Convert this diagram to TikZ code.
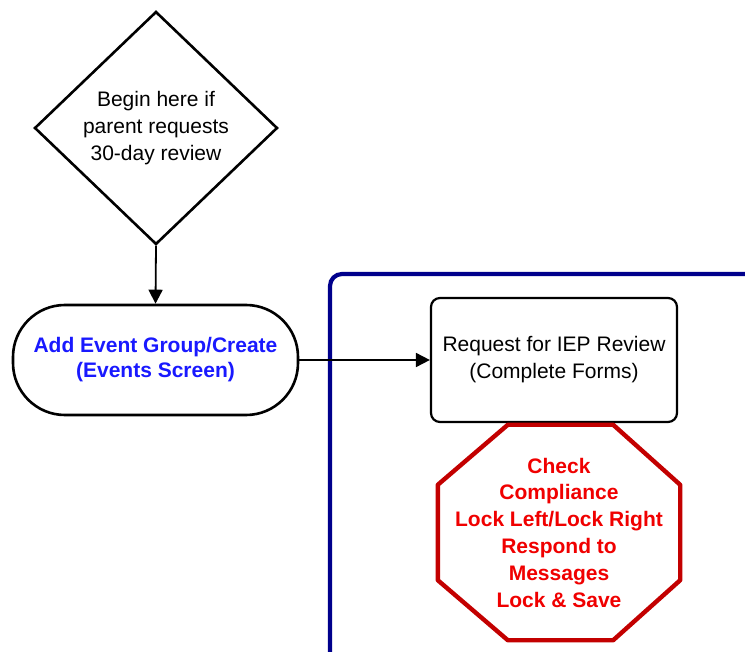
\documentclass[tikz,border=0pt]{standalone}
\usepackage{fontspec}
\setmainfont{Liberation Sans}
\usetikzlibrary{shapes.geometric,arrows.meta,calc}
\definecolor{framenavy}{RGB}{0,0,140}
\definecolor{txtblue}{RGB}{25,25,255}
\definecolor{txtred}{RGB}{240,0,0}
\definecolor{stopred}{RGB}{195,0,0}
\tikzset{
  lbl/.style={font=\fontsize{21}{27}\selectfont, align=center, inner sep=0pt},
  decision/.style={lbl, diamond, draw=black, line width=2.6pt, minimum width=243pt, minimum height=233pt},
  terminal/.style={lbl, font=\fontsize{21}{25}\selectfont\bfseries, text=txtblue, rectangle, rounded corners=52pt, draw=black, line width=2.6pt, minimum width=285pt, minimum height=110pt},
  process/.style={lbl, rectangle, rounded corners=9pt, draw=black, line width=2.2pt, minimum width=246pt, minimum height=124pt},
  stopbox/.style={lbl, font=\fontsize{21}{26.8}\selectfont\bfseries, text=txtred, rectangle, minimum width=242pt, minimum height=215pt},
  stopline/.style={draw=stopred, line width=4.4pt, line join=round},
  flow/.style={draw=black, line width=1.8pt, -{Triangle[length=14pt,width=14pt]}}
}
\begin{document}
\begin{tikzpicture}[x=1pt,y=-1pt]
\useasboundingbox (0,0) rectangle (745,652);
\fill[white] (0,0) rectangle (745,652);
% container frame
\draw[framenavy, line width=4.2pt, rounded corners=12pt] (330,700) -- (330,274) -- (800,274);
% nodes
\node[decision] (start) at (156,128) {Begin here if\\parent requests\\30-day review};
\node[terminal] (add) at (155.5,360) {Add Event Group/Create\\(Events Screen)};
\node[process] (req) at (554,360) {Request for IEP Review\\(Complete Forms)};
\node[stopbox] (stop) at (559,532.5) {Check\\Compliance\\Lock Left/Lock Right\\Respond to\\Messages\\Lock \& Save};
% octagon outline of the stop node
\draw[stopline]
  ($(stop.north west)+(70,0)$) -- ($(stop.north east)+(-67,0)$)
  -- ($(stop.north east)+(0,60)$) -- ($(stop.south east)+(0,-60)$)
  -- ($(stop.south east)+(-67,0)$) -- ($(stop.south west)+(70,0)$)
  -- ($(stop.south west)+(0,-60)$) -- ($(stop.north west)+(0,60)$) -- cycle;
% connectors
\draw[flow] (start.south) -- (add.north);
\draw[flow] (add.east) -- (req.west);
\end{tikzpicture}
\end{document}
